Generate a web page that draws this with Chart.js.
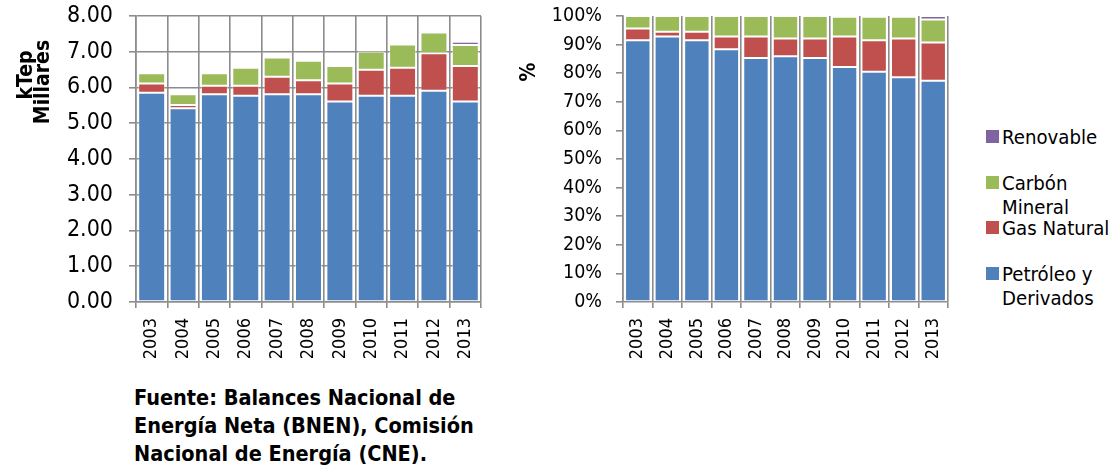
<!DOCTYPE html>
<html>
<head>
<meta charset="utf-8">
<script src="https://cdn.jsdelivr.net/npm/chart.js@4.4.1/dist/chart.umd.min.js"></script>
<style>
  html, body { margin: 0; padding: 0; background: #fff; }
  body {
    width: 1114px; height: 468px; position: relative; overflow: hidden;
    font-family: 'DejaVu Sans Condensed', 'DejaVu Sans', sans-serif; color: #000;
  }
  #wrapAbs { position: absolute; left: 0; top: 0; width: 495px; height: 380px; }
  #wrapPct { position: absolute; left: 495px; top: 0; width: 465px; height: 380px; }
  #legend { position: absolute; left: 986px; top: 125px; font-size: 20.2px; line-height: 24px; }
  .item { height: 45.5px; display: flex; align-items: flex-start; }
  .swatch { width: 13px; height: 13px; margin-top: 5px; margin-right: 3px; flex: none; }
  .txt { width: 120px; }
  #fuente {
    position: absolute; left: 134px; top: 384px;
    font-weight: bold; font-size: 21.5px; line-height: 28px; white-space: nowrap;
  }
</style>
</head>
<body>
<div id="wrapAbs"><canvas id="chartAbs" width="495" height="380"></canvas></div>
<div id="wrapPct"><canvas id="chartPct" width="465" height="380"></canvas></div>
<div id="legend"></div>
<div id="fuente">Fuente: Balances Nacional de<br>Energía Neta (BNEN), Comisión<br>Nacional de Energía (CNE).</div>

<script>
// Years on the category axis
const years = ['2003', '2004', '2005', '2006', '2007', '2008', '2009', '2010', '2011', '2012', '2013'];

// Energy supply by source, kTep (thousands)
const petroleoKtep = [5.85, 5.42, 5.81, 5.77, 5.81, 5.81, 5.61, 5.77, 5.77, 5.91, 5.61];
const gasKtep      = [0.26, 0.09, 0.24, 0.28, 0.49, 0.39, 0.50, 0.73, 0.78, 1.05, 0.99];
const carbonKtep   = [0.29, 0.30, 0.35, 0.50, 0.54, 0.55, 0.49, 0.50, 0.65, 0.58, 0.59];
const renovKtep    = [0.00, 0.00, 0.00, 0.00, 0.00, 0.00, 0.00, 0.05, 0.05, 0.04, 0.09];

// Share of each source, %
const petroleoPct = [91.5, 92.8, 91.5, 88.4, 85.3, 85.9, 85.3, 82.2, 80.5, 78.6, 77.4];
const gasPct      = [4.1, 1.7, 3.0, 4.4, 7.5, 6.2, 6.8, 10.6, 11.0, 13.5, 13.3];
const carbonPct   = [4.4, 5.5, 5.5, 7.2, 7.2, 7.9, 7.9, 6.9, 8.2, 7.6, 8.1];
const renovPct    = [0, 0, 0, 0, 0, 0, 0, 0.3, 0.3, 0.3, 1.2];

// Source names
const sourceNames = ['Petróleo y Derivados', 'Gas Natural', 'Carbón Mineral', 'Renovable'];

const COLORS = ['#4F81BD', '#C0504D', '#9BBB59', '#8064A2'];
const GRID = '#8c8c8c';
const FONT = "'DejaVu Sans Condensed', 'DejaVu Sans', sans-serif";

function makeDatasets(series) {
  return series.map((values, i) => ({
    label: sourceNames[i],
    data: values,
    backgroundColor: COLORS[i],
    borderColor: 'rgba(255,255,255,0.45)',
    borderWidth: 1,
    borderSkipped: false,
    barPercentage: 0.86,
    categoryPercentage: 1
  }));
}

// Rotated axis captions drawn on the canvas
const captionPlugin = {
  id: 'captions',
  afterDraw(chart, args, opts) {
    const ctx = chart.ctx;
    ctx.save();
    ctx.fillStyle = '#000';
    ctx.textAlign = 'center';
    ctx.textBaseline = 'middle';
    ctx.font = 'bold 21px ' + FONT;
    (opts.items || []).forEach(it => {
      ctx.save();
      ctx.translate(it.x, it.y);
      ctx.rotate(-Math.PI / 2);
      ctx.fillText(it.text, 0, 0);
      ctx.restore();
    });
    ctx.restore();
  }
};

function baseOptions(yOpts, yWidth, showYGrid, rightPad, captions) {
  return {
    responsive: false,
    animation: false,
    devicePixelRatio: 1,
    layout: { padding: { top: 16, right: rightPad, left: 0, bottom: 0 } },
    plugins: {
      legend: { display: false },
      tooltip: { enabled: false },
      captions: { items: captions }
    },
    scales: {
      x: {
        stacked: true,
        afterFit(scale) {
          scale.height = 78;
          scale.paddingLeft = 0;
          scale.paddingRight = 0;
        },
        grid: { display: true, offset: true, color: GRID, lineWidth: 1.6, tickLength: 6, drawOnChartArea: true },
        border: { display: true, color: GRID, width: 1.6 },
        ticks: {
          color: '#000', font: { family: FONT, size: 18 },
          minRotation: 90, maxRotation: 90, padding: 10, autoSkip: false
        }
      },
      y: Object.assign({
        stacked: true,
        afterFit(scale) {
          scale.width = yWidth;
          scale.paddingTop = 0;
          scale.paddingBottom = 0;
        },
        grid: { display: true, color: GRID, lineWidth: 1.6, tickLength: 7, drawOnChartArea: showYGrid },
        border: { display: true, color: GRID, width: 1.6 }
      }, yOpts)
    }
  };
}

const chartAbs = new Chart(document.getElementById('chartAbs'), {
  type: 'bar',
  data: { labels: years, datasets: makeDatasets([petroleoKtep, gasKtep, carbonKtep, renovKtep]) },
  options: baseOptions({
    min: 0, max: 8,
    ticks: {
      stepSize: 1, color: '#000', padding: 16,
      font: { family: FONT, size: 23 },
      callback: v => v.toFixed(2)
    }
  }, 136, true, 14, [
    { text: 'kTep', x: 27, y: 75 },
    { text: 'Millares', x: 44, y: 82 }
  ]),
  plugins: [captionPlugin]
});

const chartPct = new Chart(document.getElementById('chartPct'), {
  type: 'bar',
  data: { labels: years, datasets: makeDatasets([petroleoPct, gasPct, carbonPct, renovPct]) },
  options: baseOptions({
    min: 0, max: 100,
    ticks: {
      stepSize: 10, color: '#000', padding: 14,
      font: { family: FONT, size: 19.5 },
      callback: v => v + '%'
    }
  }, 128, false, 12, [
    { text: '%', x: 35, y: 72 }
  ]),
  plugins: [captionPlugin]
});

// Legend built from the datasets, last series on top
const legendEl = document.getElementById('legend');
chartPct.data.datasets.slice().reverse().forEach(ds => {
  const item = document.createElement('div');
  item.className = 'item';
  const sw = document.createElement('span');
  sw.className = 'swatch';
  sw.style.background = ds.backgroundColor;
  const tx = document.createElement('span');
  tx.className = 'txt';
  tx.textContent = ds.label;
  item.appendChild(sw);
  item.appendChild(tx);
  legendEl.appendChild(item);
});
</script>
</body>
</html>
